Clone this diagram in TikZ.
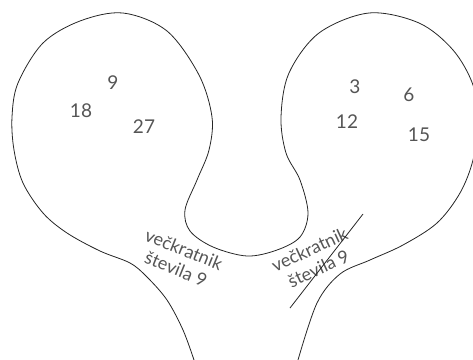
\documentclass[tikz,border=0pt]{standalone}
\usepackage{fontspec}
\setmainfont{Lato}
\definecolor{txtgray}{HTML}{555555}

\begin{document}
\begin{tikzpicture}[
    x=1pt, y=-1pt,
    curve/.style={draw=black!85, line width=0.8pt},
    num/.style={font=\fontsize{19}{21}\selectfont, text=txtgray, inner sep=1pt},
    lbl/.style={font=\fontsize{18}{21}\selectfont, text=txtgray, align=center, inner sep=1pt}
]
\useasboundingbox (0,0) rectangle (473,359);

% the outline of both bulbs
\draw[curve] plot[smooth, tension=0.55] coordinates {
    (194,360) (183,330) (167,300) (147,277) (130,263) (100,251) (67,233) (43,213)
    (23,183) (14,150) (12,117) (18,83) (43,43) (80,21) (123,13) (167,31)
    (199,75) (212,117) (209,150) (197,180) (185,210) (190,231) (213,247)
    (247,256) (277,250) (300,237) (308,213) (300,180) (286,153) (281,117)
    (289,73) (319,33) (369,13) (419,23) (453,50) (473,85) (478,122) (473,160)
    (460,193) (437,223) (403,245) (370,260) (340,274) (317,303) (298,360)};

% numbers in the left bulb
\node[num] (n9)  at (113,83)  {9};
\node[num] (n18) at (81,111)  {18};
\node[num] (n27) at (144,127) {27};

% numbers in the right bulb
\node[num] (n3)  at (355,87)  {3};
\node[num] (n6)  at (409,95)  {6};
\node[num] (n12) at (347,122) {12};
\node[num] (n15) at (419,135) {15};

% labels
\node[lbl, rotate=-22] (left)  at (180,259) {večkratnik\\števila 9};
\node[lbl, rotate=25]  (right) at (314,259) {večkratnik\\števila 9};
\draw[curve] (290,308) -- (363,214);

\end{tikzpicture}
\end{document}
